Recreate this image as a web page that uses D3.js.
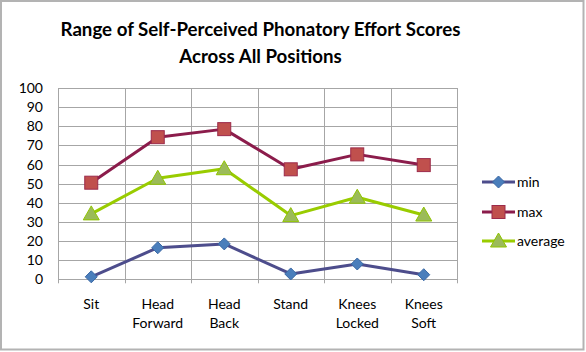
<!DOCTYPE html>
<html><head><meta charset="utf-8">
<script src="https://cdn.jsdelivr.net/npm/d3@7"></script>
<style>body{margin:0;background:#fff}svg{display:block}</style>
</head><body>
<svg id="c" width="586" height="352"></svg>
<script>
const categories = [["Sit"],["Head","Forward"],["Head","Back"],["Stand"],["Knees","Locked"],["Knees","Soft"]];
const minValues = [1.3, 16.5, 18.5, 2.8, 8, 2.4];
const maxValues = [50.5, 74.3, 78.5, 57.5, 65.3, 59.7];
const avgValues = [34.2, 52.8, 57.8, 33.3, 42.9, 33.6];
const yTicks = [0,10,20,30,40,50,60,70,80,90,100];
const seriesNames = ["min","max","average"];

const svg = d3.select("#c");
const font = "Lato, 'Open Sans', sans-serif";
svg.append("rect").attr("x",0).attr("y",0).attr("width",586).attr("height",352).attr("fill","#fff");
svg.append("rect").attr("x",1).attr("y",1).attr("width",582.5).attr("height",348.5)
  .attr("fill","none").attr("stroke","#b3b3b3").attr("stroke-width",2);

const L=58, R=457, T=88, B=279.3;
const x = d3.scaleBand().domain(d3.range(categories.length)).range([L,R]);
const y = d3.scaleLinear().domain([0,100]).range([B,T]);

// grid
const g = svg.append("g");
g.selectAll(".hg").data(yTicks).join("line")
  .attr("x1",L).attr("x2",R).attr("y1",d=>Math.round(y(d))+0.5).attr("y2",d=>Math.round(y(d))+0.5)
  .attr("stroke","#a6a6a6").attr("stroke-width",1);
const vx = d3.range(categories.length+1).map(i=> i<categories.length ? x(i) : R);
g.selectAll(".vg").data(vx).join("line")
  .attr("x1",d=>Math.round(d)+0.5).attr("x2",d=>Math.round(d)+0.5).attr("y1",T).attr("y2",B+4)
  .attr("stroke","#a6a6a6").attr("stroke-width",1);

// y axis labels
const yAxis = d3.axisLeft(y).tickValues(yTicks).tickSize(0).tickPadding(15);
const ya = svg.append("g").attr("transform",`translate(${L},0)`).call(yAxis);
ya.select(".domain").remove();
ya.selectAll("text").attr("font-family",font).attr("font-size",14).attr("fill","#000");

// x labels
const xl = svg.append("g");
categories.forEach((c,i)=>{
  const t = xl.append("text").attr("x",x(i)+x.bandwidth()/2).attr("y",309)
    .attr("text-anchor","middle").attr("font-family",font).attr("font-size",14).attr("fill","#000");
  c.forEach((s,j)=>t.append("tspan").attr("x",x(i)+x.bandwidth()/2).attr("dy",j?19:0).text(s));
});

// title
const TX = 260.5;
const title = svg.append("text").attr("x",TX).attr("text-anchor","middle")
  .attr("font-family",font).attr("font-weight","bold").attr("font-size",18.7).attr("fill","#000");
title.append("tspan").attr("x",TX).attr("y",36).text("Range of Self-Perceived Phonatory Effort Scores");
title.append("tspan").attr("x",TX).attr("y",63).text("Across All Positions");

const cx = i => x(i)+x.bandwidth()/2;
const styles = [
  {vals:minValues, line:"#4d4d8c", fill:"#4a7ebb", stroke:"#3a68a5", shape:"diamond"},
  {vals:maxValues, line:"#8b1c4b", fill:"#c0504d", stroke:"#9c2a4a", shape:"square"},
  {vals:avgValues, line:"#99cc00", fill:"#9bbb59", stroke:"#8fc400", shape:"triangle"}
];
function marker(sel, shape, px, py){
  if(shape==="diamond") return sel.append("path").attr("d",`M${px},${py-6}L${px+6},${py}L${px},${py+6}L${px-6},${py}Z`);
  if(shape==="square") return sel.append("rect").attr("x",px-6.5).attr("y",py-6.5).attr("width",13).attr("height",13);
  return sel.append("path").attr("d",`M${px},${py-8}L${px+8},${py+6}L${px-8},${py+6}Z`);
}
const line = d3.line().x((d,i)=>cx(i)).y(d=>y(d));
styles.forEach(s=>{
  svg.append("path").datum(s.vals).attr("d",line).attr("fill","none")
    .attr("stroke",s.line).attr("stroke-width",3).attr("stroke-linejoin","round");
  s.vals.forEach((v,i)=>{
    marker(svg, s.shape, cx(i), y(v)).attr("fill",s.fill).attr("stroke",s.stroke).attr("stroke-width",1);
  });
});

// legend
const legY = [182, 212, 241];
styles.forEach((s,k)=>{
  svg.append("line").attr("x1",482).attr("x2",515).attr("y1",legY[k]).attr("y2",legY[k])
    .attr("stroke",s.line).attr("stroke-width",3);
  marker(svg, s.shape, 498.5, legY[k]).attr("fill",s.fill).attr("stroke",s.stroke).attr("stroke-width",1);
  svg.append("text").attr("x",517).attr("y",legY[k]+5).attr("font-family",font).attr("font-size",14)
    .attr("fill","#000").text(seriesNames[k]);
});
</script>
</body></html>
